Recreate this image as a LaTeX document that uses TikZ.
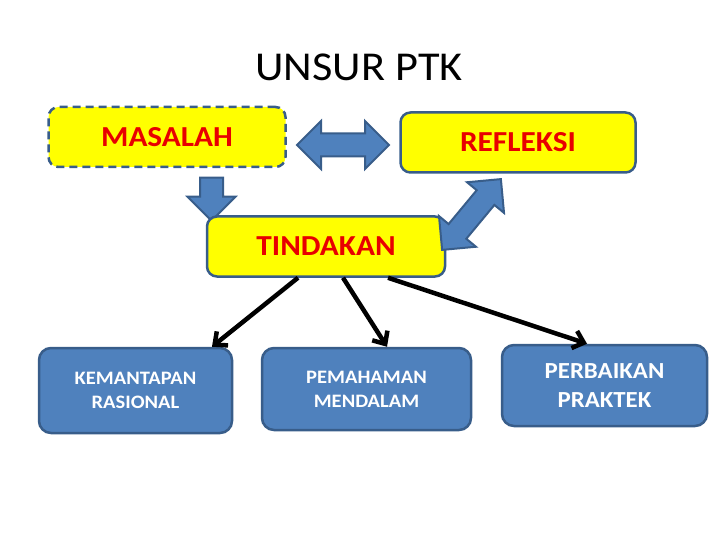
\documentclass[tikz,border=0pt]{standalone}
\usepackage{fontspec}
\setmainfont{Carlito}[FakeStretch=1.08]
\usetikzlibrary{arrows.meta, shapes.arrows}

\definecolor{boxyellow}{RGB}{255,255,0}
\definecolor{boxblue}{RGB}{79,129,189}
\definecolor{boxline}{RGB}{56,93,138}
\definecolor{textred}{RGB}{232,0,0}

\begin{document}
\begin{tikzpicture}[
  x=1pt, y=-1pt,
  ybox/.style={draw=boxline, line width=2.5pt, fill=boxyellow, rounded corners=10pt, minimum width=238pt, minimum height=60pt, text=textred, font=\bfseries\fontsize{29}{35}\selectfont},
  bbox/.style={draw=boxline, line width=2.5pt, fill=boxblue, rounded corners=12pt, align=center, text=white, font=\bfseries\fontsize{19}{24}\selectfont},
  dblarr/.style={double arrow, draw=boxline, line width=2pt, fill=boxblue, inner xsep=0pt, inner ysep=10.5pt, minimum height=92pt, double arrow head extend=12.5pt},
  sglarr/.style={single arrow, draw=boxline, line width=2pt, fill=boxblue, inner xsep=0pt, inner ysep=10.5pt, minimum height=43pt, single arrow head extend=12.5pt},
  flow/.style={-{Straight Barb[length=10pt, width=18pt]}, line width=4.5pt, black}
]
\useasboundingbox (0,0) rectangle (720,540);

% title
\node[font=\fontsize{41}{48}\selectfont] (title) at (359,67) {UNSUR PTK};

% top row
\node[ybox, dash pattern=on 8pt off 5pt, minimum width=237pt] (masalah) at (167,137) {MASALAH};
\node[ybox, minimum width=235pt] (refleksi) at (518,142.5) {REFLEKSI};
\node[sglarr, rotate=-90] (turun) at (211.5,193.5) {};
\node[ybox] (tindakan) at (326,246.5) {TINDAKAN};
\node[dblarr] (siklus) at (343,145) {};
\node[dblarr, rotate=50.3] (balik) at (471.5,214.5) {};

% outcomes
\node[bbox, minimum width=193pt, minimum height=85pt] (kemantapan) at (135.5,390.5) {KEMANTAPAN\\RASIONAL};
\node[bbox, minimum width=209pt, minimum height=82pt] (pemahaman) at (366.5,389) {PEMAHAMAN\\MENDALAM};
\node[bbox, minimum width=205pt, minimum height=81pt, font=\bfseries\fontsize{23}{29}\selectfont] (perbaikan) at (604.5,385.5) {PERBAIKAN\\PRAKTEK};

\draw[flow] ([xshift=-28pt]tindakan.south) -- ([xshift=76.5pt]kemantapan.north);
\draw[flow] ([xshift=17pt]tindakan.south) -- ([xshift=20.5pt]pemahaman.north);
\draw[flow] ([xshift=62pt]tindakan.south) -- ([xshift=-17.5pt]perbaikan.north);

\end{tikzpicture}
\end{document}
